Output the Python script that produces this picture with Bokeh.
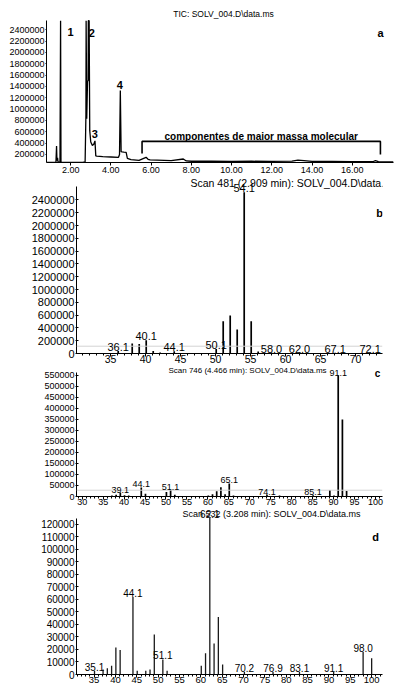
from bokeh.plotting import figure
from bokeh.models import (FixedTicker, NumeralTickFormatter, Label, LabelSet,
                          ColumnDataSource, Range1d, Span)
from bokeh.core.properties import value
from bokeh.embed import file_html
from bokeh.resources import INLINE

FONT = "Liberation Sans"

# ---------------- panel a : total ion chromatogram ----------------
tic_title = "TIC: SOLV_004.D\\data.ms"
tic_time = [0.80, 1.20, 1.27, 1.30, 1.32, 1.35, 1.37, 1.40, 1.47, 1.50, 1.52, 1.55,
            2.00, 2.60, 2.72, 2.76, 2.77, 2.80, 2.84, 2.87, 2.88, 2.92, 2.95, 3.00,
            3.08, 3.15, 3.21, 3.25, 3.30, 3.60, 4.00, 4.38, 4.43, 4.47, 4.51, 4.56,
            4.65, 4.76, 4.82, 5.00, 5.40, 5.75, 5.85, 5.95, 6.30, 7.00, 7.60, 7.75,
            8.00, 9.00, 10.00, 11.00, 12.00, 13.00, 13.30, 13.60, 14.00, 15.00,
            16.00, 17.05, 17.15, 17.30, 18.05]
tic_abund = [58000, 60000, 65000, 350000, 90000, 140000, 75000, 70000, 65000, 2560000,
             70000, 60000, 60000, 60000, 70000, 900000, 2560000, 830000, 1500000,
             1500000, 2560000, 2560000, 620000, 420000, 360000, 380000, 440000, 175000,
             170000, 160000, 155000, 150000, 200000, 1330000, 250000, 245000, 240000,
             235000, 130000, 110000, 95000, 150000, 115000, 105000, 100000, 90000,
             120000, 85000, 80000, 82000, 78000, 80000, 78000, 82000, 100000, 92000,
             78000, 76000, 74000, 75000, 92000, 72000, 70000]
tic_xticks = [2, 4, 6, 8, 10, 12, 14, 16]
tic_yticks = [200000, 400000, 600000, 800000, 1000000, 1200000, 1400000, 1600000,
              1800000, 2000000, 2200000, 2400000]
peak_ids = ["1", "2", "3", "4"]
peak_id_time = [2.0, 3.05, 3.2, 4.45]
peak_id_abund = [2355000, 2337000, 553000, 1420000]
group_text = "componentes de maior massa molecular"
group_time = [5.55, 17.4]
group_level = 430000
group_ends = [219000, 200000]
group_text_abund = 517000

# ---------------- panel b ----------------
b_title = "Scan 481 (2.909 min): SOLV_004.D\\data.ms"
b_mz = [36.1, 38.1, 39.1, 40.1, 41.1, 42.1, 44.1, 50.1, 51.1, 52.1, 53.1, 54.1,
        55.1, 56.1, 58.0, 62.0, 67.1, 72.1]
b_abund = [40000, 155000, 150000, 208000, 40000, 15000, 35000, 70000, 505000,
           594000, 375000, 2520000, 505000, 30000, 15000, 15000, 12000, 10000]
b_labeled = [36.1, 40.1, 44.1, 50.1, 54.1, 58.0, 62.0, 67.1, 72.1]
b_xticks = [35, 40, 45, 50, 55, 60, 65, 70]
b_xminor = [31, 32, 33, 34, 36, 37, 38, 39, 41, 42, 43, 44, 46, 47, 48, 49, 51, 52,
            53, 54, 56, 57, 58, 59, 61, 62, 63, 64, 66, 67, 68, 69, 71, 72, 73]
b_yticks = [0, 200000, 400000, 600000, 800000, 1000000, 1200000, 1400000, 1600000,
            1800000, 2000000, 2200000, 2400000]

# ---------------- panel c ----------------
c_title = "Scan 746 (4.466 min): SOLV_004.D\\data.ms"
c_mz = [37.1, 38.1, 39.1, 40.1, 41.1, 44.1, 45.1, 50.1, 51.1, 52.1, 60.1, 61.1,
        62.1, 63.1, 64.1, 65.1, 66.1, 74.1, 77.1, 85.1, 89.1, 90.1, 91.1, 92.1, 93.1]
c_abund = [5000, 8000, 18000, 6000, 4000, 41000, 12000, 20000, 29000, 8000, 5000,
           10000, 24000, 42000, 10000, 59000, 5000, 8000, 5000, 6000, 30000, 5000,
           548000, 349000, 25000]
c_labeled = [39.1, 44.1, 51.1, 65.1, 74.1, 85.1, 91.1]
c_xticks = [30, 35, 40, 45, 50, 55, 60, 65, 70, 75, 80, 85, 90, 95, 100]
c_xminor = [29, 31, 32, 33, 34, 36, 37, 38, 39, 41, 42, 43, 44, 46, 47, 48, 49, 51,
            52, 53, 54, 56, 57, 58, 59, 61, 62, 63, 64, 66, 67, 68, 69, 71, 72, 73,
            74, 76, 77, 78, 79, 81, 82, 83, 84, 86, 87, 88, 89, 91, 92, 93, 94, 96,
            97, 98, 99, 101]
c_yticks = [0, 50000, 100000, 150000, 200000, 250000, 300000, 350000, 400000,
            450000, 500000, 550000]

# ---------------- panel d ----------------
d_title = "Scan 532 (3.208 min): SOLV_004.D\\data.ms"
d_mz = [35.1, 37.1, 38.1, 39.1, 40.1, 41.1, 44.1, 45.1, 47.1, 48.1, 49.1, 51.1,
        52.1, 60.1, 61.1, 62.1, 63.1, 64.1, 65.1, 70.2, 76.9, 83.1, 91.1, 98.0, 100.0]
d_abund = [3000, 4000, 5000, 7000, 21500, 19600, 62000, 3000, 3000, 4000, 32000,
           12000, 3000, 7000, 17000, 125000, 24700, 46000, 8000, 2000, 2000, 2000,
           2000, 18000, 13000]
d_labeled = [35.1, 44.1, 51.1, 62.1, 70.2, 76.9, 83.1, 91.1, 98.0]
d_xticks = [35, 40, 45, 50, 55, 60, 65, 70, 75, 80, 85, 90, 95, 100]
d_xminor = [31, 32, 33, 34, 36, 37, 38, 39, 41, 42, 43, 44, 46, 47, 48, 49, 51,
            52, 53, 54, 56, 57, 58, 59, 61, 62, 63, 64, 66, 67, 68, 69, 71, 72, 73,
            74, 76, 77, 78, 79, 81, 82, 83, 84, 86, 87, 88, 89, 91, 92, 93, 94, 96,
            97, 98, 99, 101, 102]
d_yticks = [0, 10000, 20000, 30000, 40000, 50000, 60000, 70000, 80000, 90000,
            100000, 110000, 120000]


def make_fig(height, xr, yr, ybounds, left, right, top, bottom):
    p = figure(width=399, height=height, x_range=Range1d(xr[0], xr[1]),
               y_range=Range1d(yr[0], yr[1]), output_backend="svg",
               toolbar_location=None, min_border_left=left, min_border_right=right,
               min_border_top=top, min_border_bottom=bottom)
    p.xgrid.visible = False
    p.ygrid.visible = False
    p.outline_line_color = None
    p.background_fill_color = "white"
    p.border_fill_color = "white"
    p.yaxis.bounds = ybounds
    return p


def style_axes(p, xticks, xminor, yticks, xfmt, fs_x, fs_y, x_standoff, y_standoff):
    p.xaxis.ticker = FixedTicker(ticks=xticks, minor_ticks=xminor)
    p.yaxis.ticker = FixedTicker(ticks=yticks, minor_ticks=[])
    p.xaxis.formatter = NumeralTickFormatter(format=xfmt)
    p.yaxis.formatter = NumeralTickFormatter(format="0")
    for ax in (p.xaxis[0], p.yaxis[0]):
        ax.axis_line_color = "black"
        ax.axis_line_width = 1
        ax.major_tick_line_color = "black"
        ax.minor_tick_line_color = "black"
        ax.major_label_text_font = FONT
        ax.major_label_text_color = "black"
    p.xaxis.major_tick_in = 0
    p.xaxis.major_tick_out = 3
    p.xaxis.minor_tick_in = 0
    p.xaxis.minor_tick_out = 2
    p.xaxis.major_label_standoff = x_standoff
    p.xaxis.major_label_text_font_size = fs_x
    p.yaxis.major_tick_in = 2
    p.yaxis.major_tick_out = 1
    p.yaxis.minor_tick_in = 0
    p.yaxis.minor_tick_out = 0
    p.yaxis.major_label_standoff = y_standoff
    p.yaxis.major_label_text_font_size = fs_y


def note(p, text, x, y, size, bold=False, align="center"):
    p.add_layout(Label(x=x, y=y, x_units="screen", y_units="screen", text=text,
                       text_font=FONT, text_font_size=size,
                       text_font_style="bold" if bold else "normal",
                       text_align=align, text_baseline="middle", text_color="black"))


def spectrum(p, mz, ab, labeled, color, width, fs):
    txt = [("%.1f" % m) if m in labeled else "" for m in mz]
    src = ColumnDataSource(dict(x=mz, y=ab, t=txt))
    p.segment(x0="x", y0=0, x1="x", y1="y", source=src, line_color=color,
              line_width=width)
    p.add_layout(LabelSet(x="x", y="y", text="t", source=src, text_font=value(FONT),
                          text_font_size=value(fs), text_align="center",
                          text_baseline="bottom", y_offset=0, text_color="black"))


# ---------------- build panel a ----------------
pa = make_fig(178, (0.8, 18.05), (58000, 2917000), (58000, 2564000), 46, 6, 0, 16)
style_axes(pa, tic_xticks, [], tic_yticks, "0.00", "9px", "9px", 1, 1)
pa.yaxis.major_tick_in = 0
pa.line(tic_time, tic_abund, line_color="black", line_width=1.3)
for t, x, y in zip(peak_ids, peak_id_time, peak_id_abund):
    pa.add_layout(Label(x=x, y=y, text=t, text_font=FONT, text_font_size="11px",
                        text_font_style="bold", text_align="center",
                        text_baseline="middle", text_color="black"))
pa.line([group_time[0], group_time[0], group_time[1], group_time[1]],
        [group_ends[0], group_level, group_level, group_ends[1]],
        line_color="black", line_width=1.6)
pa.add_layout(Label(x=(group_time[0] + group_time[1]) / 2, y=group_text_abund,
                    text=group_text, text_font=FONT, text_font_size="10px",
                    text_font_style="bold", text_align="center",
                    text_baseline="middle", text_color="black"))
note(pa, tic_title, 177, 149, "8.5px")
note(pa, "a", 334, 130, "11px", bold=True)

# ---------------- build panel b ----------------
pb = make_fig(187, (30.14, 73.86), (0, 2736000), (0, 2611000), 76, 17, 0, 12)
style_axes(pb, b_xticks, b_xminor, b_yticks, "0", "10.5px", "11px", -2, 1)
pb.add_layout(Span(location=114000, dimension="width", line_color="#d4d4d4",
                   line_width=1))
spectrum(pb, b_mz, b_abund, b_labeled, "black", 1.7, "11px")
note(pb, b_title, 114, 170.5, "10.5px", align="left")
note(pb, "b", 303, 141, "11px", bold=True)

# ---------------- build panel c ----------------
pc = make_fig(143, (28.64, 101.67), (0, 593800), (0, 562000), 76, 17, 0, 12)
style_axes(pc, c_xticks, c_xminor, c_yticks, "0", "9px", "9px", -1, 1)
pc.add_layout(Span(location=28500, dimension="width", line_color="#d4d4d4",
                   line_width=1))
spectrum(pc, c_mz, c_abund, c_labeled, "black", 1.7, "9px")
note(pc, c_title, 171, 126, "8px")
note(pc, "c", 301, 123, "10px", bold=True)

# ---------------- build panel d ----------------
pd_ = make_fig(185, (30.88, 102.54), (0, 132600), (0, 124600), 76, 17, 0, 19)
style_axes(pd_, d_xticks, d_xminor, d_yticks, "0", "9.5px", "10px", -1, 1)
spectrum(pd_, d_mz, d_abund, d_labeled, "#1a1a1a", 1.3, "10px")
note(pd_, d_title, 195, 161, "9px")
note(pd_, "d", 299, 138, "11px", bold=True)

open("out.html", "w").write(file_html([pa, pb, pc, pd_], INLINE))
